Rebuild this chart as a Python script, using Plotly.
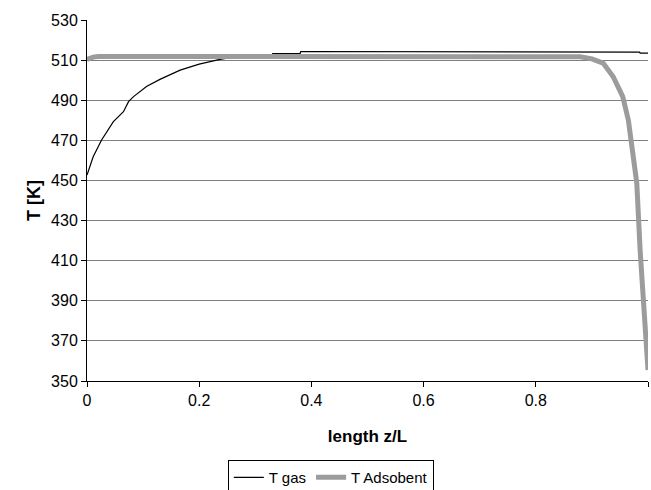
import plotly.graph_objects as go

# T gas
z_gas = [0.0, 0.011, 0.026, 0.047, 0.065, 0.074, 0.083, 0.106, 0.13, 0.166, 0.2, 0.237, 0.27,
         0.33, 0.331, 0.38, 0.381, 0.9, 0.901, 0.985, 0.986, 1.0]
T_gas = [452.7, 461.8, 470.2, 479.3, 484.3, 489.3, 491.8, 496.8, 500.4, 505.0, 508.0, 510.4, 512.0,
         512.3, 513.3, 513.4, 514.3, 514.3, 514.0, 514.0, 513.5, 513.5]

# T Adsorbent
z_ads = [0.0, 0.011, 0.02, 0.07, 0.071, 0.2, 0.5, 0.8, 0.879, 0.9, 0.92, 0.938, 0.955, 0.965,
         0.973, 0.98, 0.986, 0.991, 0.996, 1.0]
T_ads = [510.3, 511.5, 511.8, 511.8, 512.2, 512.2, 512.2, 512.2, 511.7, 510.6, 508.5, 501.7, 491.8, 480.0,
         465.2, 448.7, 415.0, 390.0, 370.0, 355.5]

x_ticks = [0, 0.2, 0.4, 0.6, 0.8, 1]
x_labels = ["0", "0.2", "0.4", "0.6", "0.8", "1"]
y_ticks = [350, 370, 390, 410, 430, 450, 470, 490, 510, 530]

fig = go.Figure()
fig.add_trace(go.Scatter(x=z_gas, y=T_gas, mode="lines", name="T gas",
                         line=dict(color="black", width=1.2)))
fig.add_trace(go.Scatter(x=z_ads, y=T_ads, mode="lines", name="T Adsobent",
                         line=dict(color="#9c9c9c", width=5)))

font = "Liberation Sans, Arial, sans-serif"
fig.update_layout(
    width=651, height=490,
    margin=dict(l=87, r=3, t=20, b=109, autoexpand=False),
    paper_bgcolor="white", plot_bgcolor="white",
    font=dict(family=font, size=16, color="black"),
    showlegend=True,
    legend=dict(orientation="h", x=0.251, xanchor="left", y=-0.219, yanchor="top",
                bordercolor="black", borderwidth=1, font=dict(size=15),
                tracegroupgap=0),
    xaxis=dict(range=[0, 1], tickvals=x_ticks, ticktext=x_labels, showgrid=False, zeroline=False,
               showline=True, linecolor="black", linewidth=1, ticks="outside", ticklen=5,
               tickcolor="black", automargin=False,
               title=dict(text="<b>length z/L</b>", font=dict(size=17), standoff=21)),
    yaxis=dict(range=[350, 530], tickvals=y_ticks, showgrid=True, gridcolor="#808080", gridwidth=1,
               zeroline=False, showline=True, linecolor="black", linewidth=1,
               ticks="outside", ticklen=5, tickcolor="black", automargin=False,
               title=dict(text="<b>T [K]</b>", font=dict(size=18), standoff=5)),
)
fig.write_html("out.html", config={"displayModeBar": False},
               post_script="document.body.style.margin='0';document.body.style.overflow='hidden';")
